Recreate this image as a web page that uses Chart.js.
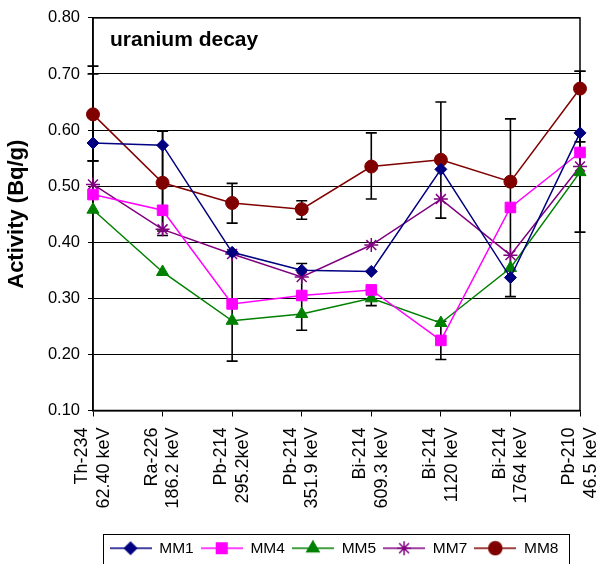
<!DOCTYPE html>
<html>
<head>
<meta charset="utf-8">
<script src="https://cdn.jsdelivr.net/npm/chart.js@4.4.1/dist/chart.umd.min.js"></script>
<style>
  html, body { margin: 0; padding: 0; background: #fff; overflow: hidden; }
  #wrap { width: 598px; height: 566px; position: relative; }
</style>
</head>
<body>
<div id="wrap"><canvas id="grafico"></canvas></div>
<script>
const categorias = [
    ['Th-234', '62.40 keV'], ['Ra-226', '186.2 keV'], ['Pb-214', '295.2keV'], ['Pb-214', '351.9 keV'],
    ['Bi-214', '609.3 keV'], ['Bi-214', '1120 keV'], ['Bi-214', '1764 keV'], ['Pb-210', '46.5 keV']
];
const mm1 = [0.577, 0.573, 0.382, 0.350, 0.348, 0.530, 0.337, 0.595];
const mm4 = [0.485, 0.457, 0.290, 0.305, 0.315, 0.225, 0.462, 0.560];
const mm5 = [0.458, 0.347, 0.260, 0.272, 0.300, 0.256, 0.354, 0.525];
const mm7 = [0.503, 0.423, 0.379, 0.338, 0.395, 0.477, 0.377, 0.535];
const mm8 = [0.628, 0.506, 0.470, 0.459, 0.535, 0.547, 0.508, 0.674];

// barras de erro: indice da categoria, minimo, maximo
const erroIndice = [0, 0, 1, 1, 2, 2, 3, 3, 4, 4, 5, 5, 6, 7, 7];
const erroMin = [0.545, 0.545, 0.412, 0.420, 0.434, 0.188, 0.441, 0.243, 0.477, 0.287, 0.443, 0.191, 0.303, 0.418, 0.579];
const erroMax = [0.714, 0.700, 0.598, 0.598, 0.505, 0.380, 0.474, 0.362, 0.595, 0.315, 0.650, 0.259, 0.620, 0.705, 0.705];

const yMin = 0.1;
const yMax = 0.8;
const yPasso = 0.1;

const FONTE = "'Liberation Sans', Arial, sans-serif";

function iconeLegenda(cor, estilo, raio) {
    const c = document.createElement('canvas');
    c.width = 42;
    c.height = 16;
    const g = c.getContext('2d');
    g.strokeStyle = cor;
    g.fillStyle = cor;
    g.lineWidth = 1.5;
    g.beginPath();
    g.moveTo(0, 8);
    g.lineTo(42, 8);
    g.stroke();
    Chart.helpers.drawPoint(g, { pointStyle: estilo, radius: raio, borderWidth: 1.5, rotation: 0 }, 21, 8);
    return c;
}

function serie(nome, dados, cor, estilo, raio) {
    return {
        label: nome,
        data: dados,
        borderColor: cor,
        backgroundColor: cor,
        borderWidth: 1.5,
        pointStyle: estilo,
        pointRadius: raio,
        pointHoverRadius: raio,
        pointBorderWidth: estilo === 'star' ? 1.5 : 1,
        tension: 0,
        clip: false,
        icone: iconeLegenda(cor, estilo, raio)
    };
}

const barrasErro = {
    id: 'barrasErro',
    beforeDatasetsDraw(chart) {
        const { ctx, chartArea, scales: { x, y } } = chart;
        ctx.save();
        // moldura da area do grafico
        ctx.strokeStyle = '#000';
        ctx.lineWidth = 1.5;
        ctx.strokeRect(chartArea.left, chartArea.top, chartArea.right - chartArea.left, chartArea.bottom - chartArea.top);

        ctx.lineWidth = 1.6;
        erroIndice.forEach((i, k) => {
            const px = x.getPixelForValue(i);
            const topo = y.getPixelForValue(erroMax[k]);
            const base = y.getPixelForValue(erroMin[k]);
            ctx.beginPath();
            ctx.moveTo(px, topo);
            ctx.lineTo(px, base);
            ctx.moveTo(px - 5.5, topo);
            ctx.lineTo(px + 5.5, topo);
            ctx.moveTo(px - 5.5, base);
            ctx.lineTo(px + 5.5, base);
            ctx.stroke();
        });
        ctx.restore();
    },
    afterDraw(chart) {
        const { ctx, chartArea } = chart;
        ctx.save();
        ctx.fillStyle = '#000';
        ctx.font = 'bold 21px ' + FONTE;
        ctx.textBaseline = 'middle';
        ctx.fillText('uranium decay', chartArea.left + 17, chartArea.top + 22);

        // caixa da legenda (a borda de baixo fica fora da imagem, como no original)
        const caixas = chart.legend.legendHitBoxes;
        if (caixas && caixas.length) {
            const esq = Math.min(...caixas.map(b => b.left)) - 7;
            const dir = Math.max(...caixas.map(b => b.left + b.width)) + 10;
            const topo = Math.min(...caixas.map(b => b.top)) - 7;
            const base = Math.max(...caixas.map(b => b.top + b.height)) + 12;
            ctx.strokeStyle = '#000';
            ctx.lineWidth = 1;
            ctx.strokeRect(Math.round(esq) + 0.5, Math.round(topo) + 0.5, Math.round(dir - esq), Math.round(base - topo));
        }
        ctx.restore();
    },
    afterUpdate(chart) {
        // centraliza os rotulos de duas linhas sobre o tick
        const x = chart.scales.x;
        const itens = x.getLabelItems();
        const altura = x.options.ticks.font.size * 1.2;
        itens.forEach((it) => {
            it.options.translation[0] -= altura / 2;
        });

        // legenda um pouco deslocada para a direita, como no original
        const leg = chart.legend;
        const desvio = 33;
        leg.left += desvio;
        leg.right += desvio;
        leg.legendHitBoxes.forEach((b) => { b.left += desvio; });
    }
};

const ctx = document.getElementById('grafico');

new Chart(ctx, {
    type: 'line',
    data: {
        labels: categorias,
        datasets: [
            serie('MM1', mm1, '#000080', 'rectRot', 6),
            serie('MM4', mm4, '#FF00FF', 'rect', 7.5),
            serie('MM5', mm5, '#008000', 'triangle', 7),
            serie('MM7', mm7, '#800080', 'star', 7),
            serie('MM8', mm8, '#800000', 'circle', 6.5)
        ]
    },
    options: {
        responsive: true,
        maintainAspectRatio: false,
        animation: false,
        layout: {
            padding: { top: 10, left: 4, right: 0, bottom: 0 }
        },
        plugins: {
            tooltip: { enabled: false },
            legend: {
                position: 'bottom',
                labels: {
                    usePointStyle: true,
                    pointStyleWidth: 42,
                    padding: 7,
                    color: '#000',
                    font: { family: FONTE, size: 15.5 },
                    generateLabels(chart) {
                        return chart.data.datasets.map((ds, i) => ({
                            text: ds.label,
                            pointStyle: ds.icone,
                            fontColor: '#000',
                            fillStyle: 'transparent',
                            strokeStyle: 'transparent',
                            lineWidth: 0,
                            hidden: false,
                            datasetIndex: i
                        }));
                    }
                }
            }
        },
        scales: {
            x: {
                offset: false,
                grid: {
                    display: true,
                    drawOnChartArea: false,
                    color: '#000',
                    tickLength: 6
                },
                border: { color: '#000', width: 1.5 },
                ticks: {
                    color: '#000',
                    maxRotation: 90,
                    minRotation: 90,
                    padding: 11,
                    autoSkip: false,
                    font: { family: FONTE, size: 18 }
                },
                afterFit(scale) {
                    scale.paddingRight = 18;
                    scale.paddingLeft = 0;
                    scale.height = 123;
                }
            },
            y: {
                min: yMin,
                max: yMax,
                ticks: {
                    stepSize: yPasso,
                    color: '#000',
                    padding: 8,
                    font: { family: FONTE, size: 16.5 },
                    callback: (v) => v.toFixed(2)
                },
                grid: {
                    color: '#000',
                    lineWidth: 1,
                    tickLength: 5
                },
                border: { color: '#000', width: 1.5 },
                title: {
                    display: true,
                    text: 'Activity (Bq/g)',
                    color: '#000',
                    font: { family: FONTE, size: 22, weight: 'bold' },
                    padding: { top: 0, bottom: 5 }
                },
                afterFit(scale) {
                    scale.width = 89;
                }
            }
        }
    },
    plugins: [barrasErro]
});
</script>
</body>
</html>
